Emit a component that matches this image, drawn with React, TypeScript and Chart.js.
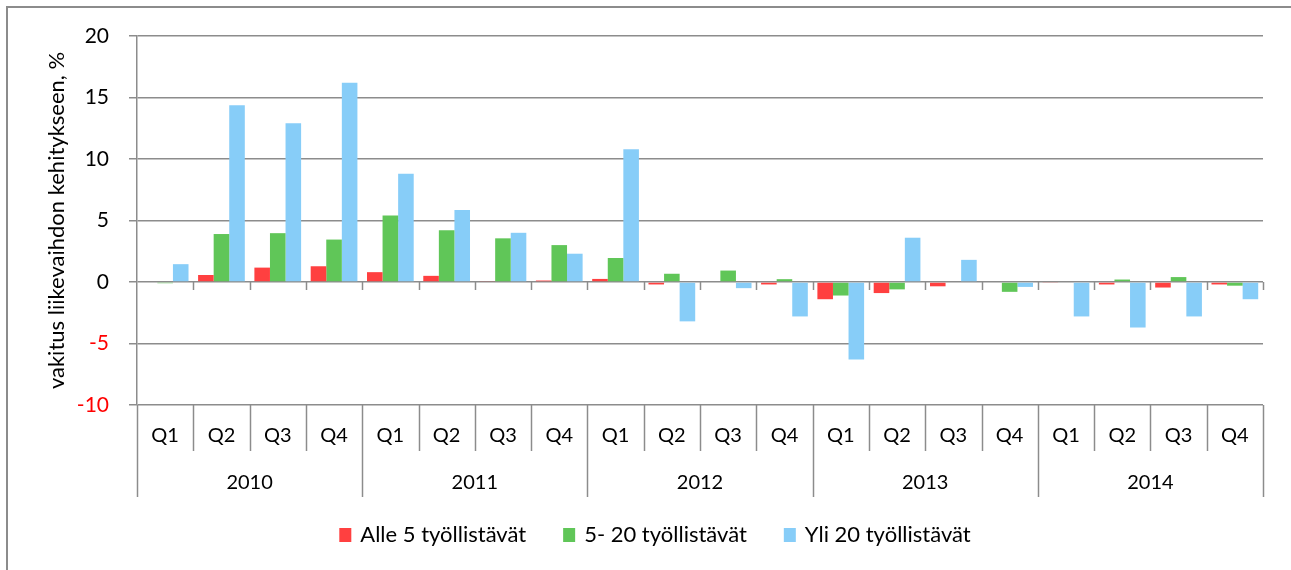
import React, { useEffect, useRef } from "react";
import { Chart, registerables } from "chart.js";

Chart.register(...registerables);

const quarters = ["Q1", "Q2", "Q3", "Q4", "Q1", "Q2", "Q3", "Q4", "Q1", "Q2", "Q3", "Q4", "Q1", "Q2", "Q3", "Q4", "Q1", "Q2", "Q3", "Q4"];
const years = ["2010", "2011", "2012", "2013", "2014"];
const seriesNames = ["Alle 5 työllistävät", "5- 20 työllistävät", "Yli 20 työllistävät"];
const seriesColors = ["#ff4040", "#60c658", "#87cdf8"];
const alle5 = [0, 0.57, 1.17, 1.28, 0.8, 0.5, 0.05, 0.12, 0.25, -0.2, 0, -0.2, -1.4, -0.9, -0.35, 0, -0.05, -0.2, -0.45, -0.2];
const from5to20 = [-0.1, 3.9, 3.97, 3.45, 5.4, 4.2, 3.55, 3.0, 1.95, 0.67, 0.93, 0.23, -1.1, -0.6, 0, -0.8, 0, 0.2, 0.4, -0.3];
const over20 = [1.45, 14.37, 12.9, 16.2, 8.8, 5.85, 4.0, 2.3, 10.8, -3.2, -0.5, -2.8, -6.3, 3.6, 1.8, -0.4, -2.8, -3.7, -2.8, -1.4];
const yTitle = "vakitus liikevaihdon kehitykseen, %";

const FONT = "Lato";
const GRID = "#8c8c8c";

const tablePlugin = {
  id: "tablePlugin",
  afterDraw(chart: any) {
    const { ctx, chartArea } = chart;
    const x = chart.scales.x;
    const y = chart.scales.y;
    const n = quarters.length;
    const bound = (i: number) => {
      if (i === 0) return chartArea.left;
      if (i === n) return chartArea.right;
      return (x.getPixelForValue(i - 1) + x.getPixelForValue(i)) / 2;
    };
    const y0 = y.getPixelForValue(0);
    const bottom = chartArea.bottom;
    ctx.save();
    ctx.strokeStyle = GRID;
    ctx.lineWidth = 1.5;
    for (let i = 1; i <= n; i++) {
      const bx = Math.round(bound(i)) + 0.5;
      ctx.beginPath();
      ctx.moveTo(bx, y0);
      ctx.lineTo(bx, y0 + 8);
      ctx.stroke();
    }
    for (let i = 0; i <= n; i++) {
      const bx = Math.round(bound(i)) + 0.5;
      const isYear = i % 4 === 0;
      ctx.beginPath();
      ctx.moveTo(bx, bottom);
      ctx.lineTo(bx, bottom + (isYear ? 92 : 46));
      ctx.stroke();
    }
    ctx.fillStyle = "#000";
    ctx.font = `20px ${FONT}`;
    ctx.textAlign = "center";
    ctx.textBaseline = "middle";
    for (let i = 0; i < n; i++) {
      ctx.fillText(quarters[i], x.getPixelForValue(i), bottom + 31);
    }
    for (let j = 0; j < years.length; j++) {
      const cx = (bound(j * 4) + bound(j * 4 + 4)) / 2;
      ctx.fillText(years[j], cx, bottom + 78);
    }

    // legend
    ctx.font = `22px ${FONT}`;
    ctx.textAlign = "left";
    const boxW = 12;
    const boxH = 14;
    const gapBoxText = 9;
    const gapItems = 37;
    const widths = seriesNames.map((s) => boxW + gapBoxText + ctx.measureText(s).width);
    const total = widths.reduce((a, b) => a + b, 0) + gapItems * (widths.length - 1);
    let lx = 655 - total / 2;
    const ly = 535;
    seriesNames.forEach((s, i) => {
      ctx.fillStyle = seriesColors[i];
      ctx.fillRect(lx, ly - boxH / 2, boxW, boxH);
      ctx.fillStyle = "#000";
      ctx.fillText(s, lx + boxW + gapBoxText, ly);
      lx += widths[i] + gapItems;
    });
    ctx.restore();
  },
  beforeDraw(chart: any) {
    const { ctx } = chart;
    ctx.save();
    ctx.fillStyle = "#fff";
    ctx.fillRect(0, 0, chart.width, chart.height);
    ctx.strokeStyle = GRID;
    ctx.lineWidth = 2;
    ctx.beginPath();
    ctx.moveTo(7, chart.height);
    ctx.lineTo(7, 7);
    ctx.lineTo(chart.width, 7);
    ctx.stroke();
    ctx.restore();
  },
};

export default function App() {
  const ref = useRef<HTMLCanvasElement | null>(null);
  useEffect(() => {
    if (!ref.current) return;
    const chart = new Chart(ref.current, {
      type: "bar",
      data: {
        labels: quarters,
        datasets: [
          { label: seriesNames[0], data: alle5, backgroundColor: seriesColors[0] },
          { label: seriesNames[1], data: from5to20, backgroundColor: seriesColors[1] },
          { label: seriesNames[2], data: over20, backgroundColor: seriesColors[2] },
        ],
      },
      options: {
        animation: false,
        responsive: true,
        maintainAspectRatio: false,
        layout: { padding: { top: 36, right: 28, left: 0, bottom: 73 } },
        datasets: { bar: { categoryPercentage: 0.83, barPercentage: 1 } } as any,
        plugins: {
          tooltip: { enabled: false },
          legend: { display: false },
        },
        scales: {
          x: {
            grid: { display: false },
            border: { display: false },
            ticks: { display: false },
            afterFit(scale: any) {
              scale.height = 92;
            },
          },
          y: {
            min: -10,
            max: 20,
            ticks: {
              stepSize: 5,
              padding: 20,
              font: { family: FONT, size: 21 },
              color: (c: any) => (c.tick && c.tick.value < 0 ? "#ff0000" : "#000"),
            },
            grid: { color: GRID, lineWidth: 1.5, tickLength: 8 },
            border: { display: true, color: GRID, width: 1.5 },
            title: {
              display: true,
              text: yTitle,
              color: "#000",
              font: { family: FONT, size: 22 },
              padding: { top: 44, bottom: 0 },
            },
            afterFit(scale: any) {
              scale.width = 137;
            },
          },
        },
      },
      plugins: [tablePlugin],
    });
    return () => chart.destroy();
  }, []);
  return (
    <div style={{ position: "absolute", left: 0, top: 0, width: 1291, height: 570 }}>
      <canvas ref={ref} />
    </div>
  );
}
